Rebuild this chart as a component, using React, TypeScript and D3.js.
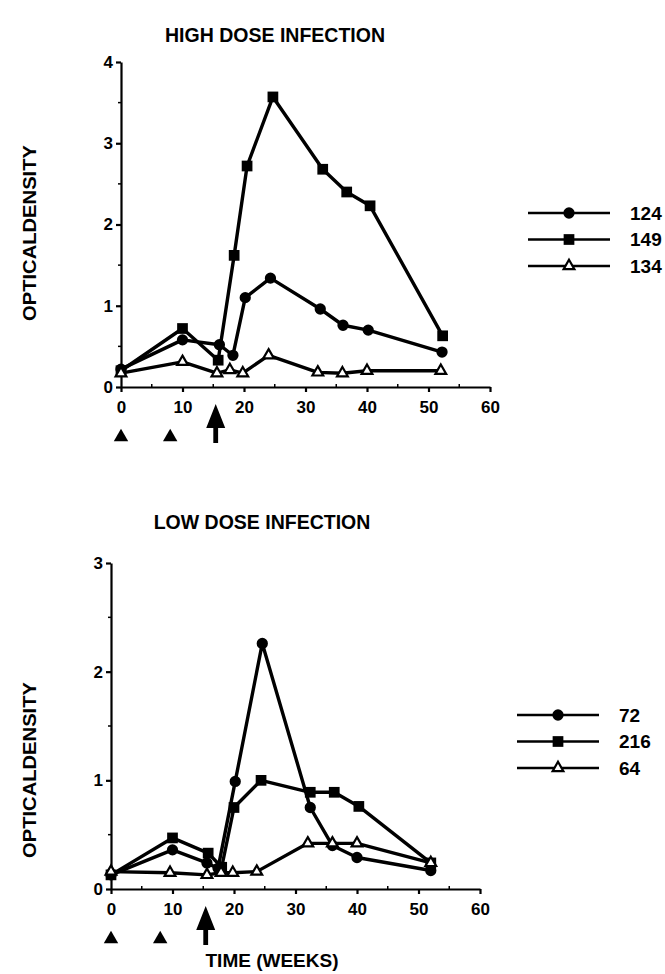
import { useEffect, useRef } from "react";
import * as d3 from "d3";

// High dose infection
const highWeeks124 = [0, 10, 16, 18.2, 20.2, 24.3, 32.4, 36.1, 40.2, 52.2];
const highOd124 = [0.22, 0.58, 0.52, 0.39, 1.1, 1.34, 0.96, 0.76, 0.7, 0.43];
const highWeeks149 = [0, 10, 15.8, 18.4, 20.5, 24.7, 32.8, 36.7, 40.5, 52.3];
const highOd149 = [0.2, 0.72, 0.33, 1.62, 2.72, 3.57, 2.68, 2.4, 2.23, 0.63];
const highWeeks134 = [0, 10, 15.6, 17.7, 19.8, 24, 32, 36, 40, 52];
const highOd134 = [0.17, 0.31, 0.17, 0.21, 0.17, 0.39, 0.18, 0.17, 0.2, 0.2];

// Low dose infection
const lowWeeks72 = [0, 10, 15.6, 17.4, 20.2, 24.6, 32.4, 36, 40, 52];
const lowOd72 = [0.13, 0.36, 0.24, 0.19, 0.99, 2.26, 0.75, 0.4, 0.29, 0.17];
const lowWeeks216 = [0, 10, 15.8, 18, 20, 24.4, 32.4, 36.3, 40.3, 52];
const lowOd216 = [0.13, 0.47, 0.33, 0.2, 0.75, 1.0, 0.89, 0.89, 0.76, 0.24];
const lowWeeks64 = [0, 9.6, 15.6, 17.9, 19.8, 23.7, 32, 36, 40, 52];
const lowOd64 = [0.16, 0.15, 0.13, 0.15, 0.15, 0.16, 0.42, 0.42, 0.42, 0.24];

const xTicks = [0, 10, 20, 30, 40, 50, 60];
const xMinorTicks = [5, 15, 25, 35, 45, 55];
const highYTicks = [0, 1, 2, 3, 4];
const lowYTicks = [0, 1, 2, 3];
const immunizationWeeks = [0, 8];
const challengeWeek = 15.4;

type Series = { label: string; weeks: number[]; od: number[]; marker: "circle" | "square" | "triangle" };

const highSeries: Series[] = [
  { label: "124", weeks: highWeeks124, od: highOd124, marker: "circle" },
  { label: "149", weeks: highWeeks149, od: highOd149, marker: "square" },
  { label: "134", weeks: highWeeks134, od: highOd134, marker: "triangle" },
];
const lowSeries: Series[] = [
  { label: "72", weeks: lowWeeks72, od: lowOd72, marker: "circle" },
  { label: "216", weeks: lowWeeks216, od: lowOd216, marker: "square" },
  { label: "64", weeks: lowWeeks64, od: lowOd64, marker: "triangle" },
];

const FONT = "'Liberation Sans', Arial, Helvetica, sans-serif";

function symbolFor(marker: string) {
  if (marker === "circle") return d3.symbol(d3.symbolCircle, 100);
  if (marker === "square") return d3.symbol(d3.symbolSquare, 115);
  return d3.symbol(d3.symbolTriangle, 50);
}

function drawPanel(
  svg: d3.Selection<SVGSVGElement, unknown, null, undefined>,
  opts: {
    title: string;
    titleX: number;
    titleY: number;
    left: number;
    right: number;
    top: number;
    bottom: number;
    yMax: number;
    yTicks: number[];
    series: Series[];
    labelY: number;
    legendX: number;
    legendY: number;
    markerRowY: number;
  }
) {
  const x = d3.scaleLinear().domain([0, 60]).range([opts.left, opts.right]);
  const y = d3.scaleLinear().domain([0, opts.yMax]).range([opts.bottom, opts.top]);

  const g = svg.append("g");

  // Title
  g.append("text")
    .attr("x", opts.titleX)
    .attr("y", opts.titleY)
    .attr("text-anchor", "middle")
    .attr("font-family", FONT)
    .attr("font-weight", "bold")
    .attr("font-size", "19.5px")
    .text(opts.title);

  // Y label
  g.append("text")
    .attr("transform", `translate(36,${opts.labelY}) rotate(-90)`)
    .attr("text-anchor", "middle")
    .attr("font-family", FONT)
    .attr("font-weight", "bold")
    .attr("font-size", "19px")
    .attr("textLength", 176)
    .attr("lengthAdjust", "spacingAndGlyphs")
    .text("OPTICALDENSITY");

  // Axes
  const yAxis = d3.axisLeft(y)
    .tickValues(opts.yTicks)
    .tickSize(5)
    .tickSizeOuter(0)
    .tickPadding(3)
    .tickFormat(d => `${d}`);
  const ya = g.append("g")
    .attr("transform", `translate(${opts.left},0)`)
    .call(yAxis);
  ya.selectAll("path,line").attr("stroke", "#000").attr("stroke-width", 2.2);
  ya.selectAll("text")
    .attr("font-family", FONT)
    .attr("font-weight", "bold")
    .attr("font-size", "17px")
    .attr("fill", "#000");

  const yMinor = d3.range(0.5, opts.yMax, 1);
  g.append("g")
    .selectAll("line")
    .data(yMinor)
    .join("line")
    .attr("x1", opts.left - 3)
    .attr("x2", opts.left)
    .attr("y1", d => y(d))
    .attr("y2", d => y(d))
    .attr("stroke", "#000")
    .attr("stroke-width", 1.5);

  const xAxis = d3.axisBottom(x)
    .tickValues(xTicks)
    .tickSize(5)
    .tickSizeOuter(0)
    .tickPadding(9)
    .tickFormat(d => `${d}`);
  const xa = g.append("g")
    .attr("transform", `translate(0,${opts.bottom})`)
    .call(xAxis);
  xa.selectAll("path,line").attr("stroke", "#000").attr("stroke-width", 2.2);
  xa.selectAll("text")
    .attr("font-family", FONT)
    .attr("font-weight", "bold")
    .attr("font-size", "17px")
    .attr("fill", "#000");

  g.append("g")
    .selectAll("line")
    .data(xMinorTicks)
    .join("line")
    .attr("x1", d => x(d))
    .attr("x2", d => x(d))
    .attr("y1", opts.bottom - 3)
    .attr("y2", opts.bottom)
    .attr("stroke", "#000")
    .attr("stroke-width", 1.5);

  // Series
  opts.series.forEach(s => {
    const pts = s.weeks.map((w, i) => [w, s.od[i]] as [number, number]);
    const line = d3.line<[number, number]>()
      .x(d => x(d[0]))
      .y(d => y(d[1]));
    g.append("path")
      .datum(pts)
      .attr("fill", "none")
      .attr("stroke", "#000")
      .attr("stroke-width", 3.4)
      .attr("stroke-linejoin", "round")
      .attr("d", line);
    g.append("g")
      .selectAll("path")
      .data(pts)
      .join("path")
      .attr("transform", d => `translate(${x(d[0])},${y(d[1])})`)
      .attr("d", symbolFor(s.marker)()!)
      .attr("fill", s.marker === "triangle" ? "#fff" : "#000")
      .attr("stroke", "#000")
      .attr("stroke-width", s.marker === "triangle" ? 2.2 : 0);
  });

  // Immunization markers and challenge arrow
  g.append("g")
    .selectAll("path")
    .data(immunizationWeeks)
    .join("path")
    .attr("transform", d => `translate(${x(d)},${opts.markerRowY})`)
    .attr("d", d3.symbol(d3.symbolTriangle, 90)()!)
    .attr("fill", "#000");

  const ax = x(challengeWeek);
  const top = opts.markerRowY - 33;
  const arrow = d3.path();
  arrow.moveTo(ax, top);
  arrow.lineTo(ax + 9.5, top + 24);
  arrow.lineTo(ax + 2.4, top + 24);
  arrow.lineTo(ax + 2.4, top + 39);
  arrow.lineTo(ax - 2.4, top + 39);
  arrow.lineTo(ax - 2.4, top + 24);
  arrow.lineTo(ax - 9.5, top + 24);
  arrow.closePath();
  g.append("path").attr("d", arrow.toString()).attr("fill", "#000");

  // Legend
  const legend = g.append("g").attr("transform", `translate(${opts.legendX},${opts.legendY})`);
  opts.series.forEach((s, i) => {
    const row = legend.append("g").attr("transform", `translate(0,${i * 26.5})`);
    row.append("line")
      .attr("x1", 0).attr("x2", 82)
      .attr("y1", 0).attr("y2", 0)
      .attr("stroke", "#000")
      .attr("stroke-width", 2.6);
    row.append("path")
      .attr("transform", "translate(41,0)")
      .attr("d", symbolFor(s.marker)()!)
      .attr("fill", s.marker === "triangle" ? "#fff" : "#000")
      .attr("stroke", "#000")
      .attr("stroke-width", s.marker === "triangle" ? 2.2 : 0);
    row.append("text")
      .attr("x", 102)
      .attr("y", 0)
      .attr("dy", "0.36em")
      .attr("font-family", FONT)
      .attr("font-weight", "bold")
      .attr("font-size", "19px")
      .text(s.label);
  });
}

export default function App() {
  const svgRef = useRef<SVGSVGElement>(null);

  useEffect(() => {
    if (!svgRef.current) return;
    const svg = d3.select(svgRef.current);
    svg.selectAll("*").remove();

    svg.append("rect").attr("width", 665).attr("height", 974).attr("fill", "#fff");

    drawPanel(svg, {
      title: "HIGH DOSE INFECTION",
      titleX: 275,
      titleY: 42,
      left: 121,
      right: 490,
      top: 62,
      bottom: 387,
      yMax: 4,
      yTicks: highYTicks,
      series: highSeries,
      labelY: 233,
      legendX: 528,
      legendY: 213,
      markerRowY: 437,
    });

    drawPanel(svg, {
      title: "LOW DOSE INFECTION",
      titleX: 262,
      titleY: 529,
      left: 111,
      right: 480,
      top: 563,
      bottom: 889,
      yMax: 3,
      yTicks: lowYTicks,
      series: lowSeries,
      labelY: 770,
      legendX: 517,
      legendY: 715,
      markerRowY: 939,
    });

    svg.append("text")
      .attr("x", 272)
      .attr("y", 967)
      .attr("text-anchor", "middle")
      .attr("font-family", FONT)
      .attr("font-weight", "bold")
      .attr("font-size", "19px")
      .text("TIME (WEEKS)");
  }, []);

  return (
    <svg
      ref={svgRef}
      width={665}
      height={974}
      style={{ position: "absolute", left: 0, top: 0 }}
    />
  );
}
